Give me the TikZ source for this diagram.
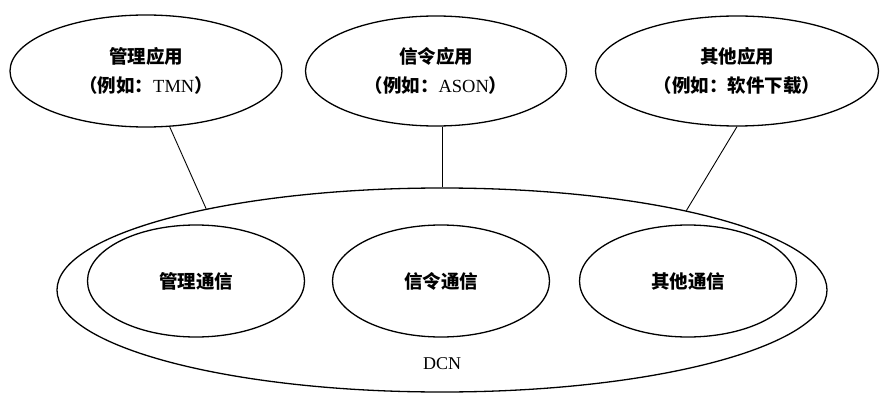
\documentclass[tikz,border=0pt]{standalone}
\usepackage{fontspec}
\setmainfont{Liberation Serif}
\newfontfamily\cjk{Noto Sans CJK SC}
\usetikzlibrary{shapes.geometric}
\newcommand\zh[1]{{\cjk\bfseries #1}}
\tikzset{
  oval/.style={draw, ellipse, line width=1.3pt, inner sep=0pt, align=center, font=\fontsize{18.5}{29}\selectfont},
  link/.style={line width=0.9pt}
}
\begin{document}
\begin{tikzpicture}[x=1pt,y=-1pt]
\useasboundingbox (0,0) rectangle (880,393);
\node[oval, minimum width=770pt, minimum height=204pt] (dcn) at (442,290) {};
\node[font=\fontsize{18}{20}\selectfont] (dcnl) at (442,364) {DCN};
\node[oval, minimum width=272pt, minimum height=112pt] (tl) at (146,71) {\zh{管理应用}\\\zh{（例如：}TMN\zh{）}};
\node[oval, minimum width=261pt, minimum height=110pt] (tm) at (436,71) {\zh{信令应用}\\\zh{（例如：}ASON\zh{）}};
\node[oval, minimum width=283pt, minimum height=110pt] (tr) at (737,71) {\zh{其他应用}\\\zh{（例如：软件下载）}};
\node[oval, minimum width=217pt, minimum height=112pt] (bl) at (196,281) {\zh{管理通信}};
\node[oval, minimum width=217pt, minimum height=112pt] (bm) at (441,281) {\zh{信令通信}};
\node[oval, minimum width=217pt, minimum height=112pt] (br) at (688,281) {\zh{其他通信}};
\draw[link] (tl.-67) -- (dcn.161);
\draw[link] (dcn.north) -- (dcn.north |- tm.south);
\draw[link] (tr.south) -- (dcn.18);
\end{tikzpicture}
\end{document}
